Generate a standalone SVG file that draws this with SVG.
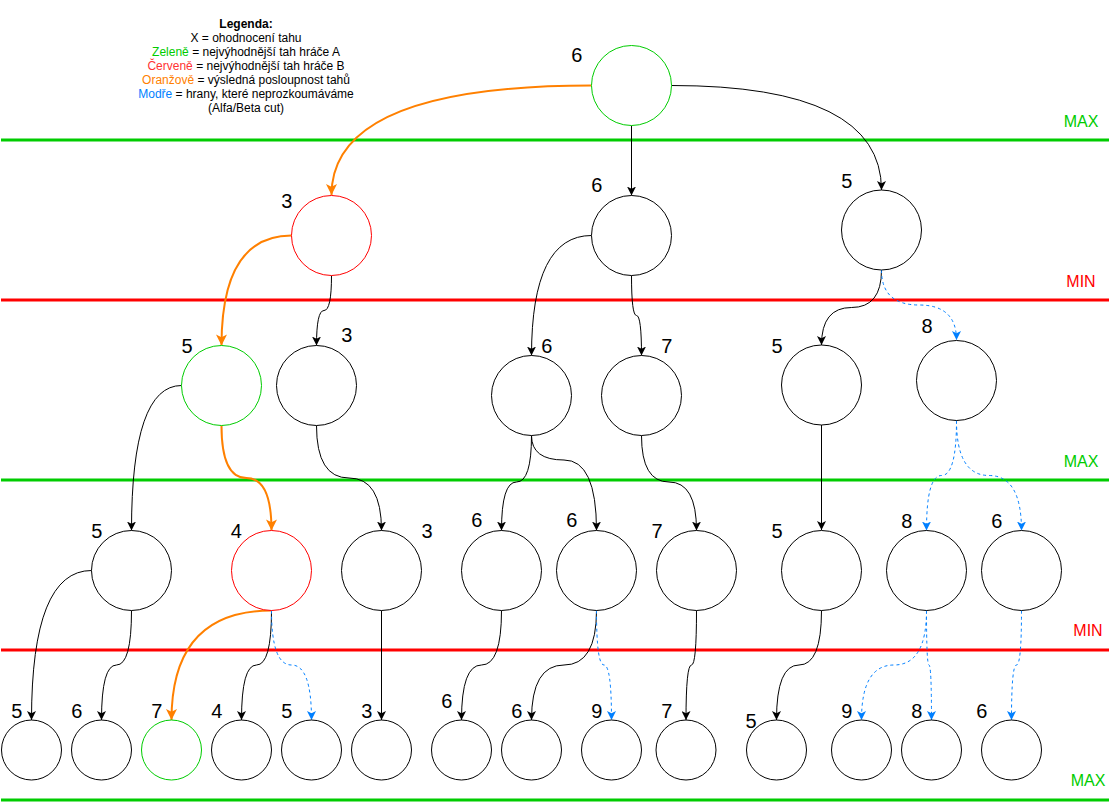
<svg xmlns="http://www.w3.org/2000/svg" width="1115" height="804" viewBox="0 0 1115 804">
<style>
text{font-family:"Liberation Sans",Arial,sans-serif}
.lg{font-size:12px;fill:#000;text-anchor:middle}
.val{font-size:20px;fill:#000;text-anchor:middle}
.lvl{font-size:16px;text-anchor:middle}
.n{fill:#fff;stroke:#000;stroke-width:1}
.ng{fill:#fff;stroke:#00CC00;stroke-width:1}
.nr{fill:#fff;stroke:#FF0000;stroke-width:1}
.e{fill:none;stroke:#000;stroke-width:1;marker-end:url(#ab)}
.o{fill:none;stroke:#FF8000;stroke-width:2;marker-end:url(#ao)}
.b{fill:none;stroke:#007FFF;stroke-width:1;stroke-dasharray:3 3;marker-end:url(#abl)}
.gl{stroke:#00CC00;stroke-width:3}
.rl{stroke:#FF0000;stroke-width:3}
</style>
<defs>
<marker id="ab" viewBox="0 0 10 10" refX="10" refY="5" markerWidth="9" markerHeight="9" markerUnits="userSpaceOnUse" orient="auto"><path d="M10,5 L0,0 L2.5,5 L0,10 Z" fill="#000"/></marker>
<marker id="ao" viewBox="0 0 10 10" refX="10" refY="5" markerWidth="12" markerHeight="11" markerUnits="userSpaceOnUse" orient="auto"><path d="M10,5 L0,0 L2.5,5 L0,10 Z" fill="#FF8000"/></marker>
<marker id="abl" viewBox="0 0 10 10" refX="10" refY="5" markerWidth="9" markerHeight="9" markerUnits="userSpaceOnUse" orient="auto"><path d="M10,5 L0,0 L2.5,5 L0,10 Z" fill="#007FFF"/></marker>
</defs>
<rect width="1115" height="804" fill="#fff"/>
<g id="legend">
<text class="lg" x="246" y="28" font-weight="bold">Legenda:</text>
<text class="lg" x="246" y="42">X = ohodnocení tahu</text>
<text class="lg" x="246" y="56"><tspan fill="#00CC00">Zeleně</tspan> = nejvýhodnější tah hráče A</text>
<text class="lg" x="246" y="70"><tspan fill="#FF3333">Červeně</tspan> = nejvýhodnější tah hráče B</text>
<text class="lg" x="246" y="84"><tspan fill="#FF8000">Oranžově</tspan> = výsledná posloupnost tahů</text>
<text class="lg" x="246" y="98"><tspan fill="#007FFF">Modře</tspan> = hrany, které neprozkoumáváme</text>
<text class="lg" x="246" y="112">(Alfa/Beta cut)</text>
</g>
<g id="levels">
<line class="gl" x1="1" y1="140" x2="1109" y2="140"/>
<line class="rl" x1="1" y1="300" x2="1109" y2="300"/>
<line class="gl" x1="1" y1="480" x2="1109" y2="480"/>
<line class="rl" x1="1" y1="650" x2="1109" y2="650"/>
<line class="gl" x1="1" y1="800" x2="1109" y2="800"/>
<text class="lvl" x="1081" y="126.5" fill="#00CC00">MAX</text>
<text class="lvl" x="1081" y="286.5" fill="#FF0000">MIN</text>
<text class="lvl" x="1081" y="466.5" fill="#00CC00">MAX</text>
<text class="lvl" x="1088" y="636" fill="#FF0000">MIN</text>
<text class="lvl" x="1088" y="786" fill="#00CC00">MAX</text>
</g>
<g id="connectors">
<path class="o" d="M591.5,85.5 Q331.5,85.5 331.5,195"/>
<path class="e" d="M631.5,125.5 L631.5,195.5"/>
<path class="e" d="M671.5,85.5 Q881.5,85.5 881.5,190"/>
<path class="o" d="M291.5,235.5 Q221.5,235.5 221.5,345.5"/>
<path class="e" d="M331.5,275.5 Q331.5,310.5 324,310.5 Q316.5,310.5 316.5,345.5"/>
<path class="e" d="M591.5,235.5 Q531.5,235.5 531.5,355.5"/>
<path class="e" d="M631.5,275.5 Q631.5,315.5 636.5,315.5 Q641.5,315.5 641.5,355.5"/>
<path class="e" d="M881.5,270 Q881.5,307.5 851.5,307.5 Q821.5,307.5 821.5,345"/>
<path class="b" d="M881.5,270 Q881.5,305 919,305 Q956.5,305 956.5,340"/>
<path class="e" d="M181.5,385.5 Q131.5,385.5 131.5,530.5"/>
<path class="o" d="M221.5,425.5 Q221.5,478 246.5,478 Q271.5,478 271.5,530.5"/>
<path class="e" d="M316.5,425.5 Q316.5,478 349,478 Q381.5,478 381.5,530.5"/>
<path class="e" d="M531.5,435.5 Q531.5,482 516.5,482 Q501.5,482 501.5,530.5"/>
<path class="e" d="M531.5,435.5 Q531.5,460 564,460 Q596.5,460 596.5,530.5"/>
<path class="e" d="M641.5,435.5 Q641.5,482 669,482 Q696.5,482 696.5,530.5"/>
<path class="e" d="M821.5,425 L821.5,530"/>
<path class="b" d="M956.5,420.5 Q956.5,475.5 941.5,475.5 Q926.5,475.5 926.5,530.5"/>
<path class="b" d="M956.5,420.5 Q956.5,475.5 989,475.5 Q1021.5,475.5 1021.5,530.5"/>
<path class="e" d="M91.5,570.5 Q31.5,570.5 31.5,720"/>
<path class="e" d="M131.5,610.5 Q131.5,665 116.5,665 Q101.5,665 101.5,720"/>
<path class="o" d="M271.5,610.5 Q171.5,610.5 171.5,720"/>
<path class="e" d="M271.5,610.5 Q271.5,665 256.5,665 Q241.5,665 241.5,720"/>
<path class="b" d="M271.5,610.5 Q271.5,665 291.5,665 Q311.5,665 311.5,720"/>
<path class="e" d="M381.5,610.5 L381.5,720"/>
<path class="e" d="M501.5,610.5 Q501.5,665 481.5,665 Q461.5,665 461.5,720"/>
<path class="e" d="M596.5,610.5 Q596.5,665 564,665 Q531.5,665 531.5,720"/>
<path class="b" d="M596.5,610.5 Q596.5,665 604,665 Q611.5,665 611.5,720"/>
<path class="e" d="M696.5,610.5 Q696.5,665 691.5,665 Q686,665 686,720"/>
<path class="e" d="M821.5,610.5 Q821.5,665 799,665 Q776.5,665 776.5,720"/>
<path class="b" d="M926.5,610.5 Q926.5,665 894,665 Q861.5,665 861.5,720"/>
<path class="b" d="M926.5,610.5 Q926.5,665 929,665 Q931.5,665 931.5,720"/>
<path class="b" d="M1021.5,610.5 Q1021.5,665 1016.5,665 Q1011.5,665 1011.5,720"/>
</g>
<g id="root"><circle class="ng" cx="631.5" cy="85.5" r="40"/><text class="val" x="576.7" y="61.5">6</text></g>
<g id="a"><circle class="nr" cx="331.5" cy="235.5" r="40"/><text class="val" x="286.7" y="208">3</text></g>
<g id="b"><circle class="n" cx="631.5" cy="235.5" r="40"/><text class="val" x="596.7" y="192">6</text></g>
<g id="c"><circle class="n" cx="881.5" cy="230" r="40"/><text class="val" x="846.7" y="187.5">5</text></g>
<g id="aa"><circle class="ng" cx="221.5" cy="385.5" r="40"/><text class="val" x="187" y="352.5">5</text></g>
<g id="ab2"><circle class="n" cx="316.5" cy="385.5" r="40"/><text class="val" x="346.7" y="342">3</text></g>
<g id="ba"><circle class="n" cx="531.5" cy="395.5" r="40"/><text class="val" x="546.7" y="353">6</text></g>
<g id="bb"><circle class="n" cx="641.5" cy="395.5" r="40"/><text class="val" x="666.7" y="353">7</text></g>
<g id="ca"><circle class="n" cx="821.5" cy="385" r="40"/><text class="val" x="777" y="352.5">5</text></g>
<g id="cb"><circle class="n" cx="956.5" cy="380.5" r="40"/><text class="val" x="927" y="332.5">8</text></g>
<g id="aaa"><circle class="n" cx="131.5" cy="570.5" r="40"/><text class="val" x="96.7" y="537.5">5</text></g>
<g id="aab"><circle class="nr" cx="271.5" cy="570.5" r="40"/><text class="val" x="236.3" y="537.5">4</text></g>
<g id="aba"><circle class="n" cx="381.5" cy="570.5" r="40"/><text class="val" x="427" y="537.5">3</text></g>
<g id="baa"><circle class="n" cx="501.5" cy="570.5" r="40"/><text class="val" x="476.7" y="527">6</text></g>
<g id="bab"><circle class="n" cx="596.5" cy="570.5" r="40"/><text class="val" x="571.7" y="527">6</text></g>
<g id="bba"><circle class="n" cx="696.5" cy="570.5" r="40"/><text class="val" x="657" y="537.5">7</text></g>
<g id="caa"><circle class="n" cx="821.5" cy="570.5" r="40"/><text class="val" x="777" y="537.5">5</text></g>
<g id="cba"><circle class="n" cx="926.5" cy="570.5" r="40"/><text class="val" x="906.7" y="527.5">8</text></g>
<g id="cbb"><circle class="n" cx="1021.5" cy="570.5" r="40"/><text class="val" x="996.7" y="527.5">6</text></g>
<g id="l1"><circle class="n" cx="31.5" cy="750" r="30"/><text class="val" x="16.7" y="718">5</text></g>
<g id="l2"><circle class="n" cx="101.5" cy="750" r="30"/><text class="val" x="76.7" y="718">6</text></g>
<g id="l3"><circle class="ng" cx="171.5" cy="750" r="30"/><text class="val" x="156.7" y="718">7</text></g>
<g id="l4"><circle class="n" cx="241.5" cy="750" r="30"/><text class="val" x="216.7" y="718">4</text></g>
<g id="l5"><circle class="n" cx="311.5" cy="750" r="30"/><text class="val" x="286.7" y="718">5</text></g>
<g id="l6"><circle class="n" cx="381.5" cy="750" r="30"/><text class="val" x="366.7" y="718">3</text></g>
<g id="l7"><circle class="n" cx="461.5" cy="750" r="30"/><text class="val" x="446.7" y="707.5">6</text></g>
<g id="l8"><circle class="n" cx="531.5" cy="750" r="30"/><text class="val" x="516.7" y="718">6</text></g>
<g id="l9"><circle class="n" cx="611.5" cy="750" r="30"/><text class="val" x="596.7" y="718">9</text></g>
<g id="l10"><circle class="n" cx="686" cy="750" r="30"/><text class="val" x="666.7" y="718">7</text></g>
<g id="l11"><circle class="n" cx="776.5" cy="750" r="30"/><text class="val" x="751" y="727.5">5</text></g>
<g id="l12"><circle class="n" cx="861.5" cy="750" r="30"/><text class="val" x="846.7" y="718">9</text></g>
<g id="l13"><circle class="n" cx="931.5" cy="750" r="30"/><text class="val" x="916.7" y="718">8</text></g>
<g id="l14"><circle class="n" cx="1011.5" cy="750" r="30"/><text class="val" x="981.7" y="718">6</text></g>
</svg>
